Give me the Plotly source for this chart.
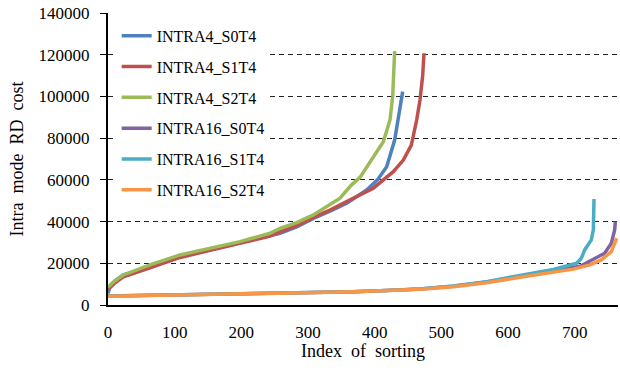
import plotly.graph_objects as go

# ---- data ----
names = ["INTRA4_S0T4", "INTRA4_S1T4", "INTRA4_S2T4",
         "INTRA16_S0T4", "INTRA16_S1T4", "INTRA16_S2T4"]
colors = ["#4F81BD", "#C0504D", "#9BBB59", "#8064A2", "#4BACC6", "#F79646"]

s0t4_x = [0, 3, 10, 23, 40, 63, 108, 153, 198, 243, 258, 283, 308, 333, 358, 388, 405, 418, 430, 435, 440, 442]
s0t4_y = [5500, 9000, 11500, 14500, 16000, 18500, 23000, 26500, 29800, 33500, 34400, 37500, 41500, 45000,
          48800, 55100, 60300, 66300, 79100, 88700, 98300, 102300]

s1t4_x = [0, 10, 23, 40, 63, 108, 153, 198, 243, 258, 283, 308, 333, 358, 398, 428, 443, 455, 463, 468, 472, 474]
s1t4_y = [7500, 10500, 13500, 15500, 17800, 22800, 26300, 29500, 33000, 35100, 38000, 42000, 45500, 49600,
          56000, 63900, 69500, 76700, 88700, 98300, 110000, 120700]

s2t4_x = [0, 10, 23, 40, 63, 108, 153, 198, 243, 258, 283, 308, 348, 365, 378, 393, 413, 423, 427, 430]
s2t4_y = [8500, 11500, 14400, 16500, 19200, 24000, 27200, 30400, 34400, 36800, 39500, 43200, 51200, 57500,
          61200, 68700, 78300, 88700, 100000, 121800]

i16s0_x = [0, 100, 200, 288, 368, 418, 468, 518, 568, 618, 668, 708, 728, 745, 755, 760, 761]
i16s0_y = [4300, 4800, 5200, 5700, 6400, 7000, 7700, 9000, 11000, 13700, 16500, 18600, 21900, 24800,
           29600, 36000, 40000]

i16s1_x = [0, 100, 200, 288, 368, 418, 468, 518, 568, 618, 668, 703, 710, 715, 725, 728, 729]
i16s1_y = [4300, 4800, 5200, 5700, 6400, 7000, 7700, 9100, 11200, 14200, 17000, 20000, 22400, 26400,
           31200, 36000, 50800]

i16s2_x = [0, 100, 200, 288, 368, 418, 468, 518, 568, 618, 668, 698, 723, 740, 755, 763]
i16s2_y = [4200, 4700, 5100, 5600, 6300, 6900, 7500, 8800, 10700, 13300, 16000, 17200, 19200, 21600,
           25600, 32000]

series_x = [s0t4_x, s1t4_x, s2t4_x, i16s0_x, i16s1_x, i16s2_x]
series_y = [s0t4_y, s1t4_y, s2t4_y, i16s0_y, i16s1_y, i16s2_y]

y_ticks = [0, 20000, 40000, 60000, 80000, 100000, 120000, 140000]
y_tick_text = ["0", "20000", "40000", "60000", "80000", "100000", "120000", "140000"]
x_ticks = [0, 100, 200, 300, 400, 500, 600, 700]
x_tick_text = ["0", "100", "200", "300", "400", "500", "600", "700"]

FONT = "Liberation Serif, Times New Roman, serif"

fig = go.Figure()
for i, (nm, c, xs, ys) in enumerate(zip(names, colors, series_x, series_y)):
    fig.add_trace(go.Scatter(
        x=xs, y=ys, mode="lines", name=nm, legendgroup=f"g{i}",
        line=dict(color=c, width=3.5),
    ))

fig.update_layout(
    width=620, height=374,
    margin=dict(l=108, r=2, t=13, b=69),
    paper_bgcolor="white", plot_bgcolor="white",
    font=dict(family=FONT, color="black", size=17),
    showlegend=True,
    legend=dict(
        x=0.017, y=0.98, xanchor="left", yanchor="top",
        bgcolor="white", borderwidth=0,
        font=dict(family=FONT, size=16, color="black"),
        tracegroupgap=7, traceorder="grouped",
    ),
    xaxis=dict(
        range=[0, 765], tickmode="array", tickvals=x_ticks, ticktext=x_tick_text,
        showgrid=False, zeroline=False,
        showline=True, linecolor="black", linewidth=2,
        ticks="", ticklabelstandoff=11,
        tickfont=dict(family=FONT, size=17, color="black"),
    ),
    yaxis=dict(
        range=[0, 140000], tickmode="array", tickvals=y_ticks, ticktext=y_tick_text,
        showgrid=True, gridcolor="#222222", gridwidth=1, griddash="5px,4px",
        zeroline=False,
        showline=True, linecolor="black", linewidth=2,
        ticks="outside", ticklen=6, tickcolor="black", tickwidth=1,
        ticklabelstandoff=7,
        tickfont=dict(family=FONT, size=17, color="black"),
        title=dict(text="Intra  mode  RD  cost", font=dict(family=FONT, size=18, color="black"), standoff=10),
    ),
    annotations=[dict(
        text="Index  of  sorting", xref="paper", yref="paper",
        x=0.5, y=-0.158, xanchor="center", yanchor="middle", showarrow=False,
        font=dict(family=FONT, size=18, color="black"),
    )],
)

fig.write_html("out.html")
